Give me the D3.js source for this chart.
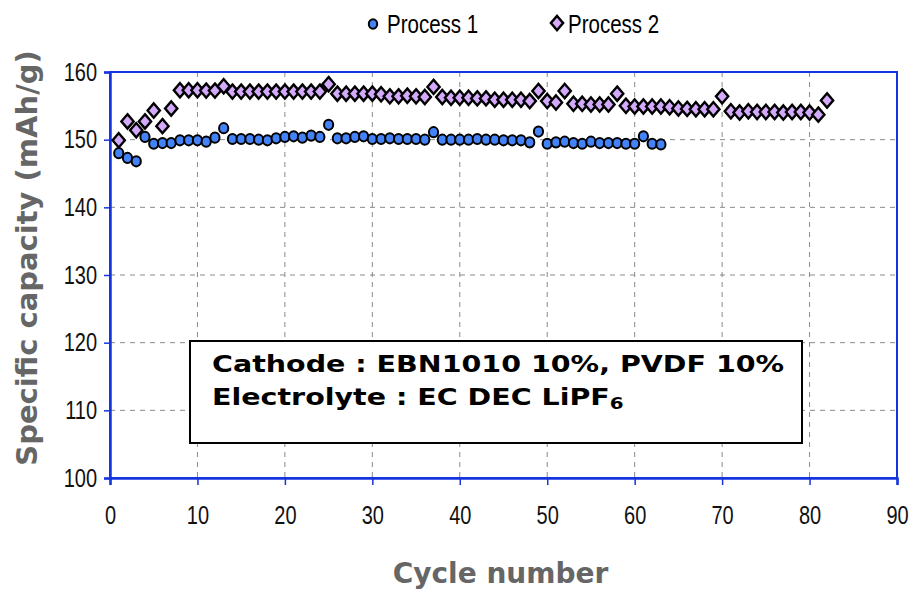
<!DOCTYPE html>
<html>
<head>
<meta charset="utf-8">
<script src="https://cdn.jsdelivr.net/npm/d3@7"></script>
<style>
  body { margin: 0; background: #fff; }
</style>
</head>
<body>
<div id="chart"></div>
<script>
// capacity per cycle
const process1 = [148.0, 147.3, 146.8, 150.4, 149.4, 149.5, 149.5, 149.9, 149.9, 149.9,
    149.7, 150.3, 151.7, 150.1, 150.1, 150.1, 150.0, 149.9, 150.2, 150.4,
    150.5, 150.3, 150.6, 150.4, 152.2, 150.2, 150.2, 150.4, 150.5, 150.1,
    150.1, 150.2, 150.1, 150.1, 150.1, 150.0, 151.1, 150.0, 150.0, 150.0,
    150.0, 150.1, 150.0, 150.0, 149.9, 149.9, 149.9, 149.6, 151.2, 149.4,
    149.6, 149.7, 149.5, 149.4, 149.7, 149.5, 149.5, 149.5, 149.4, 149.4,
    150.5, 149.4, 149.3];

const process2 = [149.9, 152.7, 151.4, 152.7, 154.3, 152.0, 154.6, 157.3, 157.3, 157.3,
    157.25, 157.25, 157.9, 157.1, 157.1, 157.1, 157.1, 157.1, 157.1, 157.1,
    157.1, 157.1, 157.1, 157.1, 158.2, 156.8, 156.8, 156.8, 156.8, 156.8,
    156.7, 156.4, 156.4, 156.5, 156.4, 156.3, 157.8, 156.3, 156.2, 156.2,
    156.2, 156.1, 156.1, 155.9, 155.9, 155.9, 155.9, 155.7, 157.2, 155.7,
    155.5, 157.2, 155.3, 155.3, 155.2, 155.2, 155.2, 156.8, 155.0, 154.9,
    154.9, 154.9, 154.9, 154.8, 154.6, 154.55, 154.5, 154.5, 154.5, 156.4,
    154.2, 154.0, 154.2, 154.1, 154.1, 154.1, 154.0, 154.1, 154.1, 154.0,
    153.7, 155.8];

const xTicks = [0, 10, 20, 30, 40, 50, 60, 70, 80, 90];
const yTicks = [100, 110, 120, 130, 140, 150, 160];
const seriesNames = ["Process 1", "Process 2"];
const noteLines = ["Cathode : EBN1010 10%, PVDF 10%", "Electrolyte : EC DEC LiPF"];

const width = 911, height = 589;
const margin = {top: 72, right: 14, bottom: 111, left: 110};
const axisBlue = "#1434e0";
const blueFill = "#4382f7", lilacFill = "#d3a9fb";
const narrowFont = "'Liberation Sans', Arial, sans-serif";

const svg = d3.select("#chart").append("svg")
    .attr("width", width)
    .attr("height", height)
    .style("font-family", "'DejaVu Sans', sans-serif");

const x = d3.scaleLinear().domain([0, 90]).range([margin.left, width - margin.right]);
const y = d3.scaleLinear().domain([100, 160]).range([height - margin.bottom, margin.top]);

// dashed grid
svg.append("g")
    .selectAll("line.h")
    .data(yTicks.slice(1, -1))
    .join("line")
    .attr("x1", x(0)).attr("x2", x(90))
    .attr("y1", d => y(d)).attr("y2", d => y(d))
    .attr("stroke", "#8a8a8a")
    .attr("stroke-dasharray", "5,5");

svg.append("g")
    .selectAll("line.v")
    .data(xTicks.slice(1, -1))
    .join("line")
    .attr("x1", d => x(d)).attr("x2", d => x(d))
    .attr("y1", y(160)).attr("y2", y(100))
    .attr("stroke", "#8a8a8a")
    .attr("stroke-dasharray", "5,5");

// frame
svg.append("rect")
    .attr("x", x(0)).attr("y", y(160))
    .attr("width", x(90) - x(0)).attr("height", y(100) - y(160))
    .attr("fill", "none")
    .attr("stroke", axisBlue)
    .attr("stroke-width", 2);

// axes
const xAxis = svg.append("g")
    .attr("transform", `translate(0,${y(100)})`)
    .call(d3.axisBottom(x).tickValues(xTicks).tickSize(7).tickPadding(21));
const yAxis = svg.append("g")
    .attr("transform", `translate(${x(0)},0)`)
    .call(d3.axisLeft(y).tickValues(yTicks).tickSize(6));

[xAxis, yAxis].forEach(a => {
    a.select(".domain").attr("stroke", axisBlue).attr("stroke-width", 2.5);
    a.selectAll(".tick line").attr("stroke", axisBlue).attr("stroke-width", 1.5);
    a.selectAll(".tick text")
        .attr("fill", "#111")
        .style("font-family", narrowFont)
        .style("font-size", "25px");
});
// squeeze the digits like a narrow face
xAxis.selectAll(".tick text").attr("transform", "scale(0.8,1)");
yAxis.selectAll(".tick text")
    .attr("x", -13 / 0.8)
    .attr("transform", "scale(0.8,1)");

// axis titles
svg.append("text")
    .attr("x", (x(0) + x(90)) / 2 - 3)
    .attr("y", 583)
    .attr("text-anchor", "middle")
    .attr("fill", "#666")
    .style("font-weight", "bold")
    .style("font-size", "28px")
    .text("Cycle number");

svg.append("text")
    .attr("transform", "translate(37," + 258 + ") rotate(-90)")
    .attr("text-anchor", "middle")
    .attr("fill", "#666")
    .style("font-weight", "bold")
    .style("font-size", "29px")
    .text("Specific capacity (mAh/g)");

// note box
const note = svg.append("g");
note.append("rect")
    .attr("x", 190).attr("y", 341)
    .attr("width", 612).attr("height", 102)
    .attr("fill", "#fff")
    .attr("stroke", "#000")
    .attr("stroke-width", 2);

const noteText = note.append("g")
    .attr("transform", "translate(212,0) scale(1.24,1)");
noteText.append("text")
    .attr("x", 0).attr("y", 372)
    .style("font-weight", "bold")
    .style("font-size", "23px")
    .text(noteLines[0]);
const line2 = noteText.append("text")
    .attr("x", 0).attr("y", 405)
    .style("font-weight", "bold")
    .style("font-size", "23px")
    .text(noteLines[1]);
line2.append("tspan")
    .attr("dy", 4)
    .style("font-size", "16px")
    .text("6");

// markers
const diamond = d3.symbol().type(d3.symbolDiamond2).size(130);

svg.append("g")
    .selectAll("ellipse")
    .data(process1)
    .join("ellipse")
    .attr("cx", (d, i) => x(i + 1))
    .attr("cy", d => y(d))
    .attr("rx", 4.6)
    .attr("ry", 5.1)
    .attr("fill", blueFill)
    .attr("stroke", "#000")
    .attr("stroke-width", 2);

svg.append("g")
    .selectAll("path")
    .data(process2)
    .join("path")
    .attr("d", diamond)
    .attr("transform", (d, i) => `translate(${x(i + 1)},${y(d)}) scale(0.86,1)`)
    .attr("fill", lilacFill)
    .attr("stroke", "#000")
    .attr("stroke-width", 2.6)
    .attr("stroke-linejoin", "miter");

// legend
const legend = svg.append("g")
    .style("font-family", narrowFont)
    .style("font-size", "25px");

legend.append("ellipse")
    .attr("cx", 373).attr("cy", 24).attr("rx", 4.2).attr("ry", 4.7)
    .attr("fill", blueFill).attr("stroke", "#000").attr("stroke-width", 2);
legend.append("text")
    .attr("transform", "translate(387,33) scale(0.82,1)")
    .text(seriesNames[0]);

legend.append("path")
    .attr("d", d3.symbol().type(d3.symbolDiamond2).size(130))
    .attr("transform", "translate(557,23) scale(0.86,1)")
    .attr("fill", lilacFill).attr("stroke", "#000").attr("stroke-width", 2.6);
legend.append("text")
    .attr("transform", "translate(568,33) scale(0.82,1)")
    .text(seriesNames[1]);
</script>
</body>
</html>
